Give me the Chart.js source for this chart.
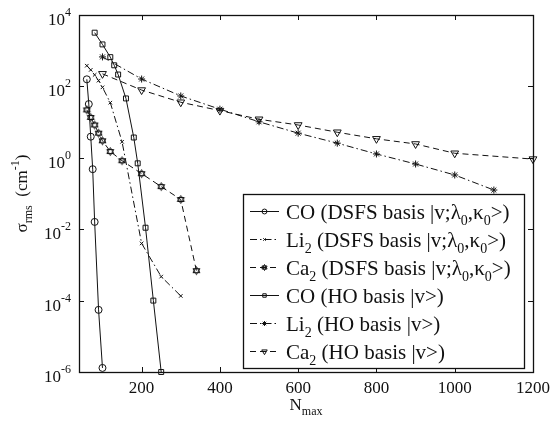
<!DOCTYPE html>
<html>
<head>
<meta charset="utf-8">
<script src="https://cdn.jsdelivr.net/npm/chart.js@4"></script>
<style>
  body { margin: 0; background: #fff; }
  canvas { display: block; }
</style>
</head>
<body>
<canvas id="chart" width="552" height="424"></canvas>
<script>
// values
const coDsfsN = [60, 65, 70, 75, 80, 90, 100];
const coDsfsRms = [158, 32, 3.9, 0.48, 0.016, 5.5e-5, 1.3e-6];

const li2DsfsN = [60, 70, 80, 90, 100, 120, 150, 200, 250, 300];
const li2DsfsRms = [380, 290, 210, 145, 94, 35, 2.8, 0.004, 4.7e-4, 1.35e-4];

const ca2DsfsN = [60, 70, 80, 90, 100, 120, 150, 200, 250, 300, 340];
const ca2DsfsRms = [22, 13.5, 8.3, 4.9, 3.0, 1.5, 0.83, 0.36, 0.156, 0.068, 6.9e-4];

const coHoN = [80, 100, 120, 130, 140, 160, 180, 190, 210, 230, 250];
const coHoRms = [3200, 1500, 660, 390, 215, 46, 3.7, 0.7, 0.011, 1e-4, 1e-6];

const li2HoN = [100, 200, 300, 400, 500, 600, 700, 800, 900, 1000, 1100];
const li2HoRms = [670, 161, 54, 23, 10.2, 4.9, 2.57, 1.28, 0.67, 0.33, 0.125];

const ca2HoN = [100, 200, 300, 400, 500, 600, 700, 800, 900, 1000, 1200];
const ca2HoRms = [225, 79, 36, 21, 12, 8.3, 5.2, 3.4, 2.44, 1.34, 0.92];

const xTicks = [200, 400, 600, 800, 1000, 1200];
const yTickExps = [4, 2, 0, -2, -4, -6];

// legend text, split into [text, kind] pieces (kind: '' | 'sub')
const legendTexts = [
  [['CO (DSFS basis |v;λ', ''], ['0', 'sub'], [',κ', ''], ['0', 'sub'], ['>)', '']],
  [['Li', ''], ['2', 'sub'], [' (DSFS basis |v;λ', ''], ['0', 'sub'], [',κ', ''], ['0', 'sub'], ['>)', '']],
  [['Ca', ''], ['2', 'sub'], [' (DSFS basis |v;λ', ''], ['0', 'sub'], [',κ', ''], ['0', 'sub'], ['>)', '']],
  [['CO (HO basis |v>)', '']],
  [['Li', ''], ['2', 'sub'], [' (HO basis |v>)', '']],
  [['Ca', ''], ['2', 'sub'], [' (HO basis |v>)', '']]
];

const FONT = '"Liberation Serif", "Times New Roman", serif';
const INK = '#111';
const DASH = [6, 4];
const DASHDOT = [7, 3, 1.5, 3];

// hexagram marker (MATLAB 'h')
function makeHexagram(r) {
  const s = Math.ceil(r * 2 + 3);
  const c = document.createElement('canvas');
  c.width = s; c.height = s;
  const g = c.getContext('2d');
  g.strokeStyle = INK;
  g.lineWidth = 1;
  const cx = s / 2, cy = s / 2;
  [-Math.PI / 2, Math.PI / 2].forEach(a0 => {
    g.beginPath();
    for (let i = 0; i < 3; i++) {
      const a = a0 + i * 2 * Math.PI / 3;
      const px = cx + r * Math.cos(a), py = cy + r * Math.sin(a);
      if (i === 0) g.moveTo(px, py); else g.lineTo(px, py);
    }
    g.closePath();
    g.stroke();
  });
  return c;
}
const hexagram = makeHexagram(4);
const hexagramSmall = makeHexagram(3);

function pts(xs, ys) {
  return xs.map((x, i) => ({ x: x, y: ys[i] }));
}

function series(label, xs, ys, style, radius, dash, fill, rotation) {
  return {
    label: label,
    data: pts(xs, ys),
    showLine: true,
    borderColor: INK,
    borderWidth: 1,
    borderDash: dash,
    pointStyle: style,
    pointRadius: radius,
    pointRotation: rotation || 0,
    pointBorderColor: INK,
    pointBorderWidth: 1,
    pointBackgroundColor: fill || 'rgba(0,0,0,0)',
    clip: false,
    tension: 0
  };
}

function drawRich(ctx, parts, x, y, size, align) {
  const subSize = Math.round(size * 0.68);
  let w = 0;
  parts.forEach(p => {
    ctx.font = (p[1] ? subSize : size) + 'px ' + FONT;
    w += ctx.measureText(p[0]).width;
  });
  let cx = align === 'center' ? x - w / 2 : (align === 'right' ? x - w : x);
  ctx.textAlign = 'left';
  ctx.textBaseline = 'alphabetic';
  parts.forEach(p => {
    ctx.font = (p[1] ? subSize : size) + 'px ' + FONT;
    let dy = 0;
    if (p[1] === 'sub') dy = size * 0.3;
    if (p[1] === 'sup') dy = -size * 0.45;
    ctx.fillText(p[0], cx, y + dy);
    cx += ctx.measureText(p[0]).width;
  });
}

const framePlugin = {
  id: 'frame',
  afterDraw(chart) {
    const ctx = chart.ctx;
    const a = chart.chartArea;
    const xs = chart.scales.x, ys = chart.scales.y;
    ctx.save();
    ctx.strokeStyle = INK;
    ctx.fillStyle = INK;
    ctx.setLineDash([]);

    // ticks (inward, all four sides)
    ctx.lineWidth = 1;
    ctx.beginPath();
    xTicks.forEach(v => {
      const px = Math.round(xs.getPixelForValue(v)) + 0.5;
      ctx.moveTo(px, a.bottom); ctx.lineTo(px, a.bottom - 5);
      ctx.moveTo(px, a.top); ctx.lineTo(px, a.top + 5);
    });
    yTickExps.forEach(e => {
      const py = Math.round(ys.getPixelForValue(Math.pow(10, e))) + 0.5;
      ctx.moveTo(a.left, py); ctx.lineTo(a.left + 5, py);
      ctx.moveTo(a.right, py); ctx.lineTo(a.right - 5, py);
    });
    ctx.stroke();

    // tick labels
    xTicks.forEach(v => {
      drawRich(ctx, [[String(v), '']], xs.getPixelForValue(v), a.bottom + 21, 17, 'center');
    });
    yTickExps.forEach(e => {
      const py = ys.getPixelForValue(Math.pow(10, e));
      ctx.font = '12px ' + FONT;
      const ew = ctx.measureText(String(e)).width;
      const right = a.left - 8;
      ctx.textAlign = 'right';
      ctx.textBaseline = 'alphabetic';
      ctx.fillText(String(e), right, py + 1);
      ctx.font = '17px ' + FONT;
      ctx.fillText('10', right - ew, py + 10);
    });

    // axis titles
    drawRich(ctx, [['N', ''], ['max', 'sub']], (a.left + a.right) / 2, 410, 17, 'center');
    ctx.save();
    ctx.translate(27, (a.top + a.bottom) / 2);
    ctx.rotate(-Math.PI / 2);
    drawRich(ctx, [['σ', ''], ['rms', 'sub'], ['  (cm', ''], ['-1', 'sup'], [')', '']], 0, 0, 17, 'center');
    ctx.restore();

    // legend box
    const lx = 243, ly = 194, lw = 281, lh = 174;
    ctx.fillStyle = '#fff';
    ctx.fillRect(lx, ly, lw, lh);
    ctx.lineWidth = 1.3;
    ctx.strokeStyle = INK;
    ctx.strokeRect(lx + 0.5, ly + 0.5, lw, lh);
    ctx.fillStyle = INK;
    chart.data.datasets.forEach((ds, i) => {
      const ry = 211 + i * 28;
      ctx.lineWidth = 1;
      ctx.setLineDash(ds.borderDash || []);
      ctx.beginPath();
      ctx.moveTo(250, ry + 0.5); ctx.lineTo(279, ry + 0.5);
      ctx.stroke();
      ctx.setLineDash([]);
      ctx.fillStyle = ds.pointBackgroundColor;
      Chart.helpers.drawPoint(ctx, {
        pointStyle: ds.pointStyle === hexagram ? hexagramSmall : ds.pointStyle,
        radius: ds.pointRadius * 0.7,
        rotation: ds.pointRotation,
        borderWidth: 1
      }, 264.5, ry + 0.5);
      ctx.fillStyle = INK;
      drawRich(ctx, legendTexts[i], 286, ry + 8, 21, 'left');
    });

    // outer frame
    ctx.lineWidth = 1.3;
    ctx.setLineDash([]);
    ctx.strokeRect(a.left + 0.5, a.top + 0.5, a.right - a.left, a.bottom - a.top);
    ctx.restore();
  }
};

new Chart(document.getElementById('chart'), {
  type: 'scatter',
  data: {
    datasets: [
      series('CO (DSFS basis |v;λ0,κ0>)', coDsfsN, coDsfsRms, 'circle', 3.5, []),
      series('Li2 (DSFS basis |v;λ0,κ0>)', li2DsfsN, li2DsfsRms, 'crossRot', 2.5, DASHDOT),
      series('Ca2 (DSFS basis |v;λ0,κ0>)', ca2DsfsN, ca2DsfsRms, hexagram, 4, DASH),
      series('CO (HO basis |v>)', coHoN, coHoRms, 'rect', 3.5, []),
      series('Li2 (HO basis |v>)', li2HoN, li2HoRms, 'star', 3.5, DASHDOT, INK),
      series('Ca2 (HO basis |v>)', ca2HoN, ca2HoRms, 'triangle', 4.5, DASH, null, 180)
    ]
  },
  options: {
    responsive: false,
    animation: false,
    layout: { padding: { top: 15, right: 19, left: 0, bottom: 0 } },
    plugins: { legend: { display: false }, tooltip: { enabled: false } },
    scales: {
      x: {
        type: 'linear',
        min: 40,
        max: 1200,
        grid: { display: false },
        border: { display: false },
        ticks: { display: false },
        afterFit(scale) { scale.height = 52; }
      },
      y: {
        type: 'logarithmic',
        min: 1e-6,
        max: 1e4,
        grid: { display: false },
        border: { display: false },
        ticks: { display: false },
        afterFit(scale) { scale.width = 79; }
      }
    }
  },
  plugins: [framePlugin]
});
</script>
</body>
</html>
